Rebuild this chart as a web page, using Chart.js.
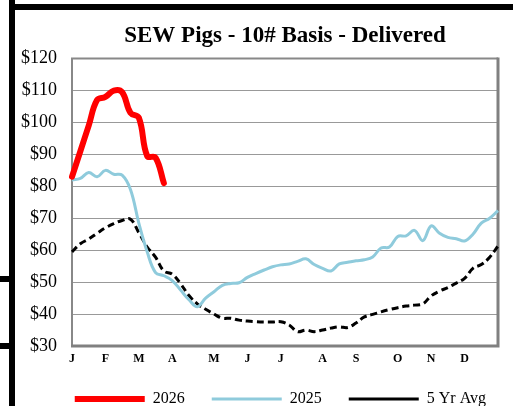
<!DOCTYPE html>
<html lang="en">
<head>
<meta charset="UTF-8">
<title>SEW Pigs - 10# Basis - Delivered</title>
<script src="https://cdn.jsdelivr.net/npm/chart.js"></script>
<style>
  html,body{margin:0;padding:0;background:#fff;}
  #wrap{position:relative;width:513px;height:406px;overflow:hidden;}
  .bar{position:absolute;background:#000;}
</style>
</head>
<body>
<div id="wrap">
  <canvas id="c" width="513" height="406"></canvas>
  <div class="bar" style="left:9px;top:0;width:6px;height:406px"></div>
  <div class="bar" style="left:9px;top:4px;width:504px;height:6px"></div>
  <div class="bar" style="left:0;top:276px;width:10px;height:6px"></div>
  <div class="bar" style="left:0;top:343px;width:10px;height:6px"></div>
</div>
<script>
// weekly series, week 0..51
const monthNames = ['J','F','M','A','M','J','J','A','S','O','N','D'];
const monthWeeks = [0,4,8,12,17,21,25,30,34,39,43,47];

const y2026 = [83,91,99,107,108,110,109.5,103,101.5,89.5,89,81];
const y2025 = [82,82.5,84.3,83,85,83.8,83.5,79,68.5,59.5,53,52,50.5,47.5,44.5,42.3,45,47,
  49,49.6,49.8,51.5,52.7,53.8,54.8,55.4,55.7,56.5,57.3,55.5,54.3,53.5,55.7,56.2,56.7,
  57,57.9,60.7,61,64.3,64.5,66.2,63,67.6,65.3,64,63.6,62.9,65,68.5,70,72.4];
const avg5 = [59.5,62,63.5,65.3,67,68.3,69.3,69.7,65.5,61,57.8,53.5,52.5,49.5,45.8,43.2,41.5,40,
  38.7,38.7,38.1,37.8,37.6,37.5,37.5,37.6,36.6,34.5,35,34.5,35,35.6,36,35.8,37.2,
  39.1,39.9,40.7,41.4,42,42.5,42.8,43.2,45.7,47.2,48.3,49.7,51.2,54.3,55.5,57.8,61.3];

const yTicks = {min:30, max:120, step:10};

const labels = [];
for (let w = 0; w < 52; w++) {
  const i = monthWeeks.indexOf(w);
  labels.push(i >= 0 ? monthNames[i] : '');
}

const serif = '"Liberation Serif", "Times New Roman", serif';

// grey plot frame, heavier on bottom and right
const frame = {
  id: 'frame',
  beforeDatasetsDraw(chart) {
    const a = chart.chartArea, ctx = chart.ctx;
    ctx.save();
    ctx.strokeStyle = '#888';
    ctx.lineWidth = 2;
    ctx.beginPath();
    ctx.moveTo(a.left, a.bottom);
    ctx.lineTo(a.left, a.top);
    ctx.lineTo(a.right, a.top);
    ctx.stroke();
    ctx.lineWidth = 3;
    ctx.strokeStyle = '#808080';
    ctx.beginPath();
    ctx.moveTo(a.left - 1, a.bottom);
    ctx.lineTo(a.right, a.bottom);
    ctx.lineTo(a.right, a.top - 1);
    ctx.stroke();
    ctx.restore();
  }
};

new Chart(document.getElementById('c'), {
  type: 'line',
  data: {
    labels,
    datasets: [
      {label:'2026', data:y2026, borderColor:'#ff0000', backgroundColor:'#ff0000', borderWidth:6, pointRadius:0, tension:0.4, borderCapStyle:'round'},
      {label:'2025', data:y2025, borderColor:'#8fcbdc', backgroundColor:'#8fcbdc', borderWidth:3, pointRadius:0, tension:0.4},
      {label:'5 Yr Avg', data:avg5, borderColor:'#000', backgroundColor:'#000', borderWidth:3, borderDash:[7,4], pointRadius:0, tension:0.4}
    ]
  },
  options: {
    responsive: false,
    animation: false,
    devicePixelRatio: 1,
    layout: {padding: {left: 0, right: 0, top: 12, bottom: -11}},
    plugins: {
      title: {
        display: true,
        fullSize: false,
        text: 'SEW Pigs - 10# Basis - Delivered',
        color: '#000',
        font: {family: serif, size: 23, weight: 'bold'},
        padding: {top: 10, bottom: 9}
      },
      legend: {
        position: 'bottom',
        align: 'end',
        labels: {
          color: '#000',
          font: {family: serif, size: 16},
          usePointStyle: true,
          pointStyle: 'line',
          pointStyleWidth: 70,
          padding: 27
        }
      },
      tooltip: {enabled: false}
    },
    scales: {
      x: {
        grid: {display: false, drawTicks: false},
        border: {display: false},
        ticks: {autoSkip: false, maxRotation: 0, color: '#000', padding: 6,
          font: {family: serif, size: 12, weight: 'bold'}},
        afterFit(s) { s.height = 18; }
      },
      y: {
        min: yTicks.min, max: yTicks.max,
        grid: {color: '#999', borderDash: [2,2], drawTicks: false},
        border: {display: false},
        ticks: {stepSize: yTicks.step, autoSkip: false, color: '#000', padding: 15,
          font: {family: serif, size: 18},
          callback: v => '$' + v},
        afterFit(s) { s.width = 72; }
      },
      y2: {
        position: 'right',
        display: true,
        grid: {display: false, drawTicks: false},
        border: {display: false},
        ticks: {display: false},
        afterFit(s) { s.width = 15; }
      }
    }
  },
  plugins: [frame]
});
</script>
</body>
</html>
